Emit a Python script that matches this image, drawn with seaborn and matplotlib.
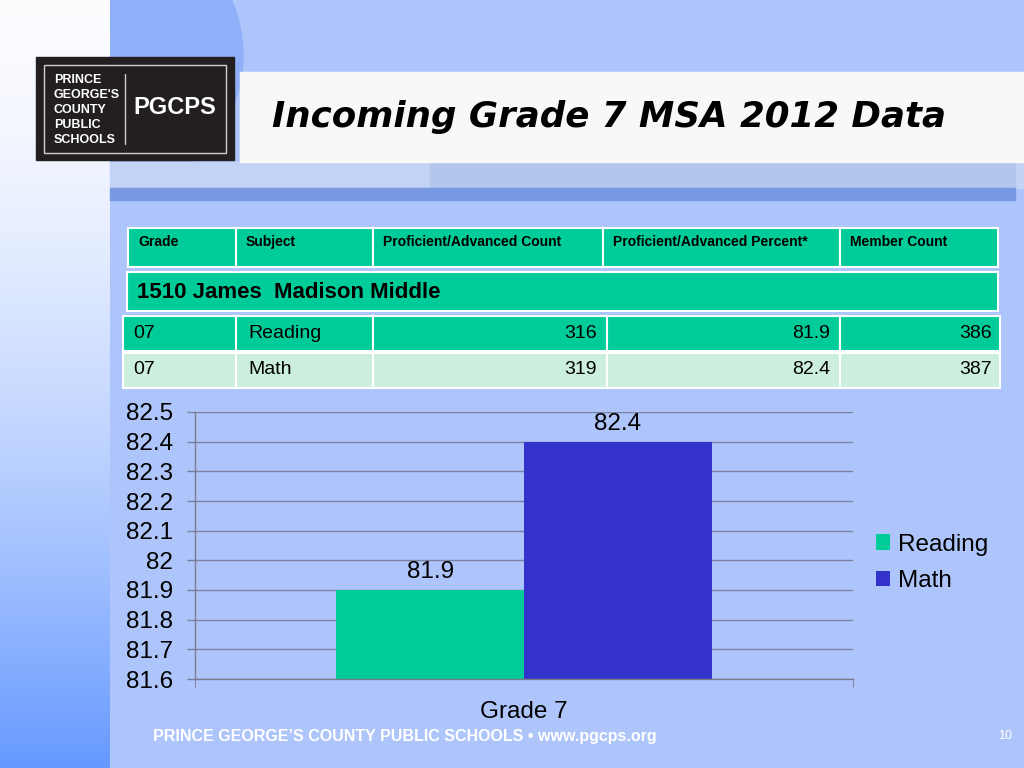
import numpy as np
import pandas as pd
import seaborn as sns
import matplotlib.pyplot as plt
from matplotlib.patches import Rectangle, Circle

# Data
subjects = ['Reading', 'Math']
grades = ['07', '07']
prof_counts = [316, 319]
prof_percent = [81.9, 82.4]
member_counts = [386, 387]
header_cols = ['Grade', 'Subject', 'Proficient/Advanced Count',
               'Proficient/Advanced Percent*', 'Member Count']
school_name = '1510 James  Madison Middle'
chart_category = 'Grade 7'
y_ticks = [81.6, 81.7, 81.8, 81.9, 82.0, 82.1, 82.2, 82.3, 82.4, 82.5]

teal = '#00CC99'
mint = '#CCEEDD'
blue = '#3333CC'
bg_blue = '#AEC5FC'

sns.set_style('white')
plt.rcParams['font.family'] = ['Liberation Sans', 'DejaVu Sans']
plt.rcParams['text.color'] = 'black'
plt.rcParams['xtick.labelcolor'] = 'black'
plt.rcParams['ytick.labelcolor'] = 'black'

fig = plt.figure(figsize=(10.24, 7.68), dpi=100)
fig.patch.set_facecolor(bg_blue)

# Full-figure background axes in pixel coordinates
bg = fig.add_axes([0, 0, 1, 1], zorder=0)
bg.set_xlim(0, 1024)
bg.set_ylim(768, 0)
bg.axis('off')
bg.add_patch(Rectangle((0, 0), 1024, 768, color=bg_blue, zorder=0))

# Left strip gradient (white on top, blue at bottom)
grad = np.linspace(0, 1, 256).reshape(-1, 1) ** 1.6
top = np.array([0.99, 0.99, 1.0])
bottom = np.array([0.40, 0.60, 1.0])
img = top + grad[..., None] * (bottom - top)
img = np.repeat(img, 2, axis=1)
bg.imshow(img, extent=(0, 110, 768, 0), aspect='auto', zorder=1)

# Darker circle behind the logo
circ = Circle((105, 55), 138, color='#8FB0F8', zorder=1)
bg.add_patch(circ)
circ.set_clip_path(Rectangle((110, 0), 914, 200, transform=bg.transData))

# Bands around the title
bg.add_patch(Rectangle((110, 162), 914, 26, color='#C3D3F5', zorder=2))
bg.add_patch(Rectangle((430, 162), 585, 26, color='#B3C6EC', zorder=2))
bg.add_patch(Rectangle((110, 188), 905, 12, color='#7898E2', zorder=2))
bg.add_patch(Rectangle((240, 72), 784, 90, color='#F8F8F8', zorder=3))

# Logo
bg.add_patch(Rectangle((36, 57), 198, 103, color='#231F20', zorder=4))
bg.add_patch(Rectangle((44, 65), 182, 88, fill=False, ec='#D0D0D0', lw=1, zorder=5))
bg.plot([125, 125], [74, 144], color='#D0D0D0', lw=1, zorder=5)
bg.text(54, 110, "PRINCE\nGEORGE'S\nCOUNTY\nPUBLIC\nSCHOOLS", color='white',
        fontsize=9, fontweight='bold', va='center', ha='left', linespacing=1.32, zorder=6)
bg.text(175, 108, 'PGCPS', color='white', fontsize=17, fontweight='bold',
        va='center', ha='center', zorder=6)

# Title
bg.text(272, 117, 'Incoming Grade 7 MSA 2012 Data', fontsize=25.7, fontweight='bold',
        style='italic', family=['DejaVu Sans'], color='black',
        va='center', ha='left', zorder=6)

# Table header
col_x = [128, 236, 373, 603, 840, 998]
for i, name in enumerate(header_cols):
    bg.add_patch(Rectangle((col_x[i], 228), col_x[i + 1] - col_x[i], 39,
                           fc=teal, ec='white', lw=1.5, zorder=4))
    bg.text(col_x[i] + 10, 242, name, fontsize=10, fontweight='bold',
            va='center', ha='left', zorder=6)

# School row
bg.add_patch(Rectangle((127, 272), 871, 39, fc=teal, ec='white', lw=1.5, zorder=4))
bg.text(137, 292, school_name, fontsize=16, fontweight='bold',
        va='center', ha='left', zorder=6)

# Data rows
body_x = [123, 236, 373, 607, 840, 1000]
row_y = [316, 353]
row_fill = [teal, mint]
for r in range(len(subjects)):
    y0 = row_y[r]
    for i in range(5):
        bg.add_patch(Rectangle((body_x[i], y0), body_x[i + 1] - body_x[i], 35,
                               fc=row_fill[r], ec='white', lw=1.5, zorder=4))
    yc = y0 + 17
    kw = dict(fontsize=14, va='center', zorder=6)
    bg.text(body_x[0] + 10, yc, grades[r], ha='left', **kw)
    bg.text(body_x[1] + 12, yc, subjects[r], ha='left', **kw)
    bg.text(body_x[3] - 10, yc, str(prof_counts[r]), ha='right', **kw)
    bg.text(body_x[4] - 10, yc, f'{prof_percent[r]}', ha='right', **kw)
    bg.text(body_x[5] - 8, yc, str(member_counts[r]), ha='right', **kw)

# Footer
bg.text(153, 736, "PRINCE GEORGE\u2019S COUNTY PUBLIC SCHOOLS \u2022 www.pgcps.org",
        color='white', fontsize=11.5, fontweight='bold', va='center', ha='left', zorder=6)
bg.text(1012, 736, '10', color='white', fontsize=9, va='center', ha='right', zorder=6)

# Bar chart
df = pd.DataFrame({'grade': [chart_category] * len(subjects),
                   'subject': subjects, 'percent': prof_percent})

ax = fig.add_axes([195 / 1024, 89 / 768, 658 / 1024, 267 / 768], zorder=2)
ax.patch.set_alpha(0)
sns.barplot(data=df, x='grade', y='percent', hue='subject', palette=[teal, blue],
            width=0.571, ax=ax, saturation=1, linewidth=0, legend=True)
ax.set_xlim(-0.5, 0.5)
ax.set_ylim(81.6, 82.5)
ax.set_yticks(y_ticks)
ax.set_yticklabels([f'{v:g}' for v in y_ticks])
ax.grid(axis='y', color='#7A80A0', lw=1)
ax.set_axisbelow(True)
ax.set_xlabel('')
ax.set_ylabel('')
for s in ['top', 'right']:
    ax.spines[s].set_visible(False)
for s in ['left', 'bottom']:
    ax.spines[s].set_color('#7A7A8A')
    ax.spines[s].set_linewidth(1)
ax.tick_params(axis='y', direction='out', length=6, color='#7A80A0', width=1,
               labelsize=17.5, pad=10, left=True)
ax.tick_params(axis='x', length=0, labelsize=17.5, pad=16)
ax.set_xticks([-0.5, 0.5], minor=True)
ax.tick_params(axis='x', which='minor', direction='out', length=6,
               color='#7A7A8A', bottom=True)
for c in ax.containers:
    ax.bar_label(c, labels=[f'{v:g}' for v in c.datavalues], fontsize=17.5, padding=5)

handles, labels = ax.get_legend_handles_labels()
ax.legend(handles, labels, loc='center left', bbox_to_anchor=(854 / 1024, 1 - 563 / 768),
          bbox_transform=fig.transFigure, frameon=False, fontsize=17.5,
          handlelength=0.6, handleheight=0.6, handletextpad=0.3, labelspacing=0.6)

fig.savefig('out.png', dpi=100, facecolor=fig.get_facecolor())
